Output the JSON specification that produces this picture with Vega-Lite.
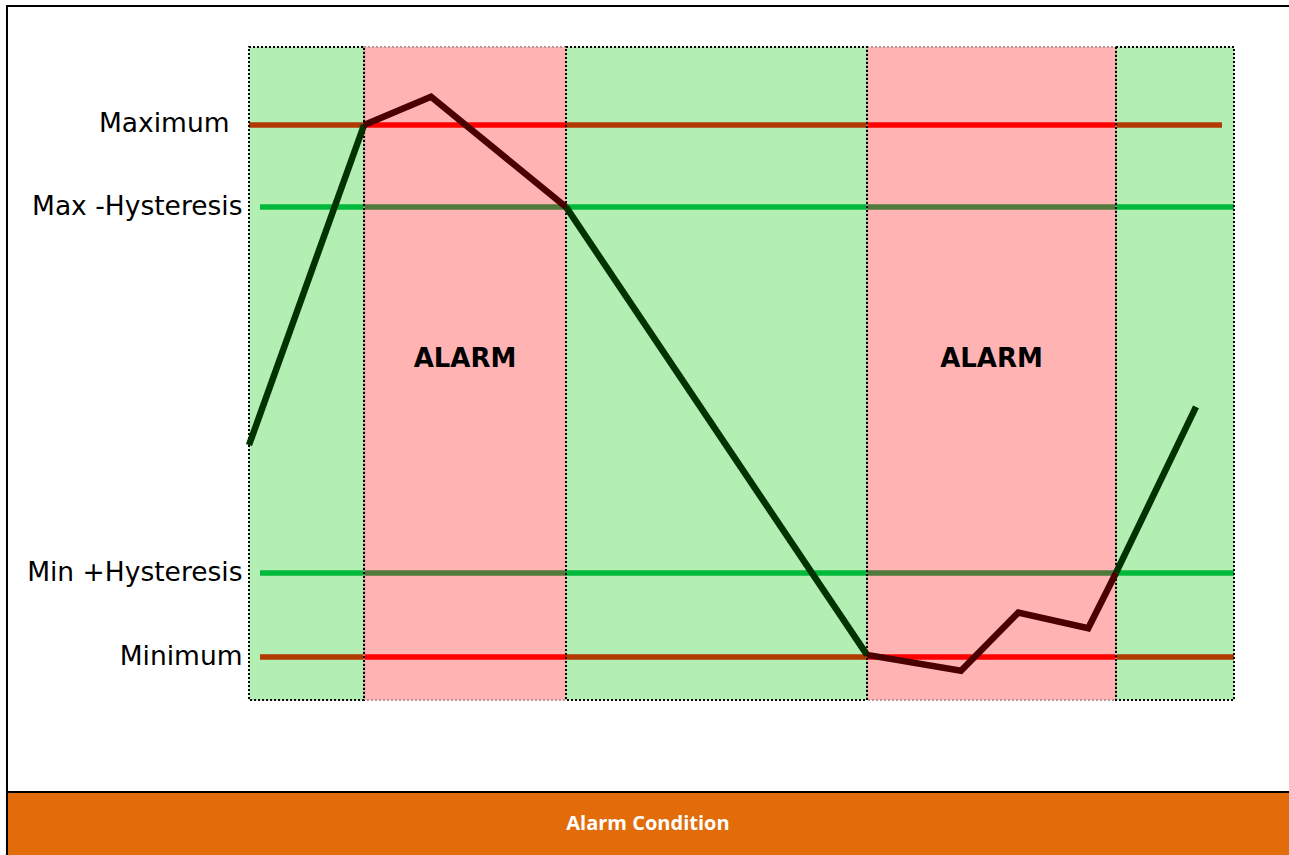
{
  "$schema": "https://vega.github.io/schema/vega-lite/v6.json",
  "autosize": {"type": "none"},
  "padding": {"left": 249, "top": 47, "right": 55, "bottom": 155},
  "width": 985,
  "height": 653,
  "background": "white",
  "config": {"view": {"stroke": null}, "axisY": {"title": null, "ticks": false, "domain": false, "grid": false}},
  "datasets": {
    "bands": [
      {"start": 0, "end": 11.68, "state": "normal"},
      {"start": 11.68, "end": 32.18, "state": "alarm"},
      {"start": 32.18, "end": 62.74, "state": "normal"},
      {"start": 62.74, "end": 88.02, "state": "alarm"},
      {"start": 88.02, "end": 100, "state": "normal"}
    ],
    "thresholds": [
      {"level": "Maximum", "type": "limit", "value": 100, "start": 0, "end": 11.68, "zone": "normal"},
      {"level": "Maximum", "type": "limit", "value": 100, "start": 11.68, "end": 32.18, "zone": "alarm"},
      {"level": "Maximum", "type": "limit", "value": 100, "start": 32.18, "end": 62.74, "zone": "normal"},
      {"level": "Maximum", "type": "limit", "value": 100, "start": 62.74, "end": 88.02, "zone": "alarm"},
      {"level": "Maximum", "type": "limit", "value": 100, "start": 88.02, "end": 98.78, "zone": "normal"},
      {"level": "Max -Hysteresis", "type": "hyst", "value": 84.6, "start": 1.12, "end": 11.68, "zone": "normal"},
      {"level": "Max -Hysteresis", "type": "hyst", "value": 84.6, "start": 11.68, "end": 32.18, "zone": "alarm"},
      {"level": "Max -Hysteresis", "type": "hyst", "value": 84.6, "start": 32.18, "end": 62.74, "zone": "normal"},
      {"level": "Max -Hysteresis", "type": "hyst", "value": 84.6, "start": 62.74, "end": 88.02, "zone": "alarm"},
      {"level": "Max -Hysteresis", "type": "hyst", "value": 84.6, "start": 88.02, "end": 100, "zone": "normal"},
      {"level": "Min +Hysteresis", "type": "hyst", "value": 15.8, "start": 1.12, "end": 11.68, "zone": "normal"},
      {"level": "Min +Hysteresis", "type": "hyst", "value": 15.8, "start": 11.68, "end": 32.18, "zone": "alarm"},
      {"level": "Min +Hysteresis", "type": "hyst", "value": 15.8, "start": 32.18, "end": 62.74, "zone": "normal"},
      {"level": "Min +Hysteresis", "type": "hyst", "value": 15.8, "start": 62.74, "end": 88.02, "zone": "alarm"},
      {"level": "Min +Hysteresis", "type": "hyst", "value": 15.8, "start": 88.02, "end": 100, "zone": "normal"},
      {"level": "Minimum", "type": "limit", "value": 0, "start": 1.12, "end": 11.68, "zone": "normal"},
      {"level": "Minimum", "type": "limit", "value": 0, "start": 11.68, "end": 32.18, "zone": "alarm"},
      {"level": "Minimum", "type": "limit", "value": 0, "start": 32.18, "end": 62.74, "zone": "normal"},
      {"level": "Minimum", "type": "limit", "value": 0, "start": 62.74, "end": 88.02, "zone": "alarm"},
      {"level": "Minimum", "type": "limit", "value": 0, "start": 88.02, "end": 100, "zone": "normal"}
    ],
    "signal": [
      {"seg": 1, "state": "normal", "t": 0, "value": 39.85},
      {"seg": 1, "state": "normal", "t": 11.68, "value": 100},
      {"seg": 2, "state": "alarm", "t": 11.68, "value": 100},
      {"seg": 2, "state": "alarm", "t": 18.48, "value": 105.3},
      {"seg": 2, "state": "alarm", "t": 32.18, "value": 84.6},
      {"seg": 3, "state": "normal", "t": 32.18, "value": 84.6},
      {"seg": 3, "state": "normal", "t": 62.74, "value": 0.4},
      {"seg": 4, "state": "alarm", "t": 62.74, "value": 0.4},
      {"seg": 4, "state": "alarm", "t": 72.28, "value": -2.57},
      {"seg": 4, "state": "alarm", "t": 78.1, "value": 8.33},
      {"seg": 4, "state": "alarm", "t": 85.2, "value": 5.4},
      {"seg": 4, "state": "alarm", "t": 88.02, "value": 15.8},
      {"seg": 5, "state": "normal", "t": 88.02, "value": 15.8},
      {"seg": 5, "state": "normal", "t": 96.14, "value": 47.0}
    ]
  },
  "resolve": {"scale": {"color": "independent", "stroke": "independent", "fill": "independent"}},
  "layer": [
    {
      "data": {"name": "bands"},
      "mark": {"type": "rect", "strokeWidth": 0},
      "encoding": {
        "x": {"field": "start", "type": "quantitative", "scale": {"domain": [0, 100], "nice": false, "zero": false}, "axis": null},
        "x2": {"field": "end"},
        "color": {"field": "state", "type": "nominal", "scale": {"domain": ["normal", "alarm"], "range": ["#b3eeb3", "#ffb3b3"]}, "legend": null}
      }
    },
    {
      "data": {"name": "thresholds"},
      "transform": [{"calculate": "datum.type + '-' + datum.zone", "as": "key"}],
      "mark": {"type": "rule", "strokeWidth": 5.5, "strokeCap": "butt"},
      "encoding": {
        "x": {"field": "start", "type": "quantitative", "scale": {"domain": [0, 100], "nice": false, "zero": false}, "axis": null},
        "x2": {"field": "end"},
        "y": {
          "field": "value", "type": "quantitative",
          "scale": {"domain": [-8.083, 114.662], "nice": false, "zero": false},
          "axis": {
            "values": [0, 15.8, 84.6, 100],
            "labelExpr": "datum.value >= 99 ? 'Maximum' : datum.value >= 80 ? 'Max -Hysteresis' : datum.value >= 10 ? 'Min +Hysteresis' : 'Minimum'",
            "labelFont": "DejaVu Sans",
            "labelFontSize": 26.5,
            "labelColor": "black",
            "labelLimit": 400,
            "labelPadding": {"condition": {"test": "datum.value >= 99", "value": 20}, "value": 7},
            "labelOffset": {"condition": {"test": "datum.value >= 99", "value": -2}, "value": 0},
            "labelBaseline": "middle",
            "ticks": false,
            "domain": false,
            "grid": false,
            "title": null,
            "labelOverlap": false,
            "labelBound": false,
            "labelFlush": false
          }
        },
        "color": {"field": "key", "type": "nominal", "scale": {"domain": ["limit-normal", "limit-alarm", "hyst-normal", "hyst-alarm"], "range": ["#b03a00", "#ff0000", "#00b83a", "#4f7a3c"]}, "legend": null}
      }
    },
    {
      "data": {"name": "bands"},
      "transform": [{"filter": "datum.state === 'alarm'"}],
      "mark": {"type": "rect", "filled": false, "stroke": "#b89494", "strokeWidth": 2, "strokeDash": [2, 2]},
      "encoding": {
        "x": {"field": "start", "type": "quantitative", "scale": {"domain": [0, 100], "nice": false, "zero": false}, "axis": null},
        "x2": {"field": "end"}
      }
    },
    {
      "data": {"name": "bands"},
      "transform": [{"filter": "datum.state === 'normal'"}],
      "mark": {"type": "rect", "filled": false, "stroke": "black", "strokeWidth": 2, "strokeDash": [2, 2]},
      "encoding": {
        "x": {"field": "start", "type": "quantitative", "scale": {"domain": [0, 100], "nice": false, "zero": false}, "axis": null},
        "x2": {"field": "end"}
      }
    },
    {
      "data": {"name": "signal"},
      "mark": {"type": "line", "strokeWidth": 6.5, "strokeCap": "butt", "strokeJoin": "miter"},
      "encoding": {
        "x": {"field": "t", "type": "quantitative", "scale": {"domain": [0, 100], "nice": false, "zero": false}, "axis": null},
        "y": {"field": "value", "type": "quantitative", "scale": {"domain": [-8.083, 114.662], "nice": false, "zero": false}},
        "detail": {"field": "seg", "type": "nominal"},
        "stroke": {"field": "state", "type": "nominal", "scale": {"domain": ["normal", "alarm"], "range": ["#003300", "#4a0000"]}, "legend": null}
      }
    },
    {
      "data": {"name": "bands"},
      "transform": [
        {"filter": "datum.state === 'alarm'"},
        {"calculate": "(datum.start + datum.end) / 2", "as": "mid"}
      ],
      "mark": {"type": "text", "text": "ALARM", "font": "DejaVu Sans", "fontWeight": "bold", "fontSize": 26, "color": "black", "align": "center", "baseline": "middle"},
      "encoding": {
        "x": {"field": "mid", "type": "quantitative", "scale": {"domain": [0, 100], "nice": false, "zero": false}, "axis": null},
        "y": {"datum": 56, "type": "quantitative", "scale": {"domain": [-8.083, 114.662], "nice": false, "zero": false}}
      }
    },
    {
      "data": {"values": [{"label": "Alarm Condition"}]},
      "mark": {"type": "rect", "fill": "#e26b0a", "stroke": "black", "strokeWidth": 2},
      "encoding": {
        "x": {"datum": -24.57, "type": "quantitative", "scale": {"domain": [0, 100], "nice": false, "zero": false}, "axis": null},
        "x2": {"datum": 107},
        "y": {"datum": -25.376, "type": "quantitative", "scale": {"domain": [-8.083, 114.662], "nice": false, "zero": false}},
        "y2": {"datum": -45}
      }
    },
    {
      "data": {"values": [{"label": "frame"}]},
      "mark": {"type": "rect", "filled": false, "stroke": "black", "strokeWidth": 2},
      "encoding": {
        "x": {"datum": -24.57, "type": "quantitative", "scale": {"domain": [0, 100], "nice": false, "zero": false}, "axis": null},
        "x2": {"datum": 107},
        "y": {"datum": 122.368, "type": "quantitative", "scale": {"domain": [-8.083, 114.662], "nice": false, "zero": false}},
        "y2": {"datum": -45}
      }
    },
    {
      "data": {"values": [{"label": "Alarm Condition"}]},
      "mark": {"type": "text", "font": "Open Sans", "fontWeight": "bold", "fontSize": 20, "color": "white", "align": "center", "baseline": "middle"},
      "encoding": {
        "text": {"field": "label"},
        "x": {"datum": 40.5, "type": "quantitative", "scale": {"domain": [0, 100], "nice": false, "zero": false}, "axis": null},
        "y": {"datum": -31.39, "type": "quantitative", "scale": {"domain": [-8.083, 114.662], "nice": false, "zero": false}}
      }
    }
  ]
}
